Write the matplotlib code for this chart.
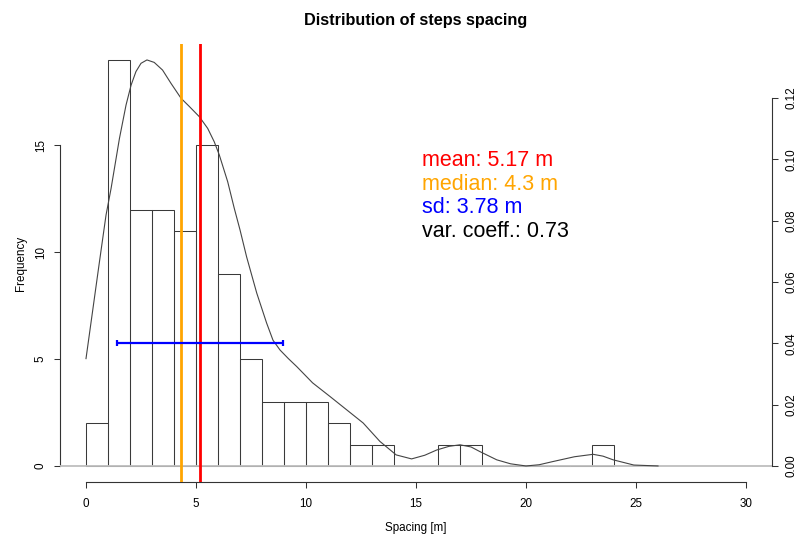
import numpy as np
import matplotlib.pyplot as plt

plt.rcParams['font.family'] = ['Liberation Sans', 'DejaVu Sans']

# histogram of step spacing (1 m bins)
bin_edges = np.arange(0, 25, 1)
counts = [2, 19, 12, 12, 11, 15, 9, 5, 3, 3, 3, 2, 1, 1, 0, 0, 1, 1, 0, 0, 0, 0, 0, 1]

# kernel density
dens_x = [0.0, 0.3, 0.6, 0.91, 1.14, 1.52, 1.82, 2.05, 2.27, 2.5, 2.77, 3.1,
          3.48, 3.86, 4.32, 4.7, 5.15, 5.53, 5.83, 6.06, 6.44, 6.74, 7.0, 7.3,
          7.76, 8.21, 8.5, 8.82, 9.2, 9.58, 10.3, 11.1, 11.85, 12.6, 13.36,
          14.1, 14.8, 15.4, 15.94, 16.5, 17.0, 17.5, 17.9, 18.67, 19.3, 20.0,
          20.6, 21.2, 22.2, 23.05, 23.5, 23.96, 24.9, 26.0]
dens_y = [0.035, 0.0505, 0.066, 0.0818, 0.0905, 0.1068, 0.1177, 0.1242, 0.1286,
          0.1313, 0.1324, 0.1316, 0.1291, 0.1248, 0.1199, 0.1172, 0.1139, 0.1101,
          0.1057, 0.1014, 0.0927, 0.084, 0.077, 0.0682, 0.0564, 0.0466, 0.041,
          0.0378, 0.035, 0.0324, 0.0271, 0.0226, 0.0183, 0.014, 0.008, 0.0036,
          0.0023, 0.0035, 0.0052, 0.0064, 0.0069, 0.0062, 0.0047, 0.002, 0.0007,
          0.0, 0.0004, 0.0014, 0.003, 0.0038, 0.0032, 0.002, 0.0003, 0.0]

mean_v = 5.17
median_v = 4.3
sd_v = 3.78
cv_v = 0.73

x_ticks = [0, 5, 10, 15, 20, 25, 30]
freq_ticks = [0, 5, 10, 15]
dens_ticks = [0.00, 0.02, 0.04, 0.06, 0.08, 0.10, 0.12]

W, H = 796, 535
fig = plt.figure(figsize=(W / 100, H / 100), dpi=100)
fig.patch.set_facecolor('white')
left, right, top, bottom = 59.6, 772.4, 43.7, 482.2
ax = fig.add_axes([left / W, 1 - bottom / H, (right - left) / W, (bottom - top) / H])

ax.bar(bin_edges[:-1], counts, width=1, align='edge', fill=False,
       edgecolor='#3a3a3a', linewidth=0.75)
ax.set_xlim(-1.2, 31.2)
ax.set_ylim(-0.76, 19.76)
for s in ['top', 'right']:
    ax.spines[s].set_visible(False)
ax.spines['left'].set_bounds(0, 15)
ax.spines['bottom'].set_bounds(0, 30)
for s in ['left', 'bottom']:
    ax.spines[s].set_color('#333333')
ax.set_xticks(x_ticks)
ax.set_yticks(freq_ticks)
ax.set_yticklabels([str(v) for v in freq_ticks], rotation=90, va='center')
ax.tick_params(axis='x', length=4.1, width=0.75, labelsize=8.4, pad=7, color='#333333')
ax.tick_params(axis='y', length=4.1, width=0.75, labelsize=8.4, pad=5, color='#333333')
ax.set_xlabel('Spacing [m]', fontsize=8.4, labelpad=9)
ax.set_ylabel('Frequency', fontsize=8.4, labelpad=6)

# density on a second y axis
ax2 = ax.twinx()
dmax = max(dens_y)
ax2.set_ylim(-0.04 * dmax, 1.04 * dmax)
for s in ['top', 'left', 'bottom']:
    ax2.spines[s].set_visible(False)
ax2.spines['right'].set_bounds(0, 0.12)
ax2.spines['right'].set_color('#333333')
ax2.set_yticks(dens_ticks)
ax2.set_yticklabels(['%.2f' % v for v in dens_ticks], rotation=90, va='center')
ax2.tick_params(length=4.1, width=0.75, labelsize=8.4, pad=5, color='#333333')

ax2.axhline(0, color='#bebebe', linewidth=1.3, zorder=1)
ax2.plot(dens_x, dens_y, color='#444444', linewidth=0.8, zorder=2)

ax2.axvline(median_v, color='orange', linewidth=2.0, zorder=3)
ax2.axvline(mean_v, color='red', linewidth=2.0, zorder=3)
ax2.errorbar(mean_v, 0.04, xerr=sd_v, fmt='none', ecolor='blue',
             elinewidth=1.6, capsize=2.4, capthick=1.6, zorder=4)

labels = ['mean: %.2f m' % mean_v, 'median: %.1f m' % median_v,
          'sd: %.2f m' % sd_v, 'var. coeff.: %.2f' % cv_v]
colors = ['red', 'orange', 'blue', 'black']
for i, (t, c) in enumerate(zip(labels, colors)):
    ax2.text(15.27, 0.0978 - i * 0.0077, t, color=c, fontsize=15.5, va='baseline', ha='left')

fig.text((left + right) / 2 / W, 1 - 25 / H, 'Distribution of steps spacing',
         ha='center', va='baseline', fontsize=11.7, fontweight='bold')

fig.savefig('out.png', dpi=100)
